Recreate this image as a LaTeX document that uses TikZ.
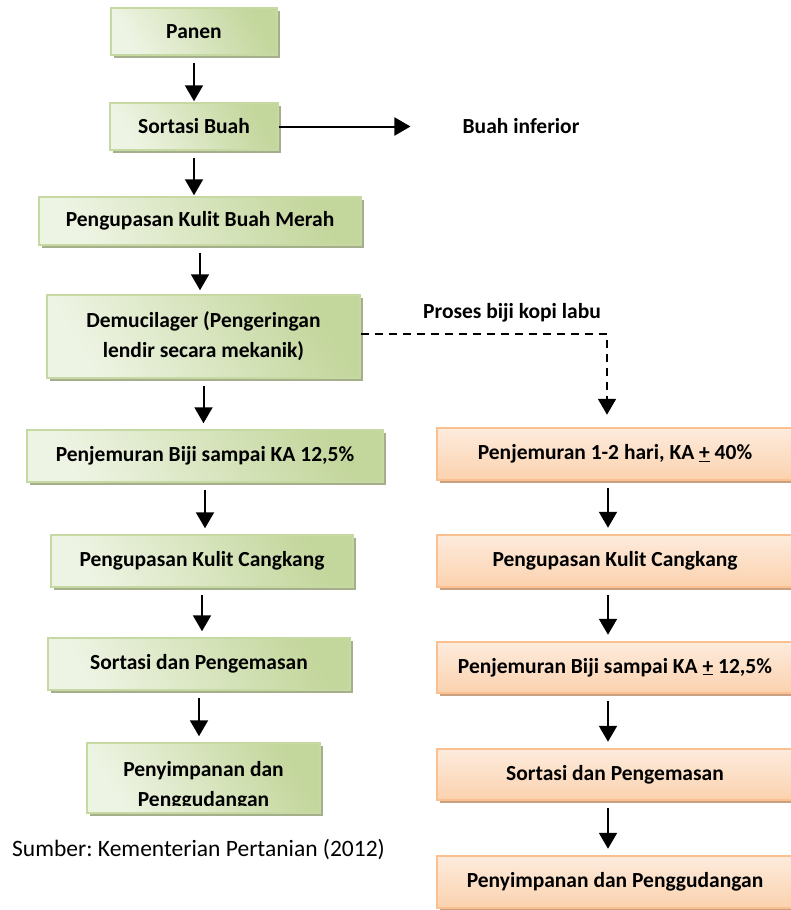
\documentclass[tikz,border=0pt]{standalone}
\usepackage{fontspec}
\setmainfont{Carlito}
\usetikzlibrary{shadows,arrows.meta,calc}
\definecolor{gL}{HTML}{EEF4E4}
\definecolor{gD}{HTML}{C3D69B}
\definecolor{gB}{HTML}{C6D9A2}
\definecolor{gS}{HTML}{A5AF8C}
\definecolor{oL}{HTML}{FDEBDD}
\definecolor{oD}{HTML}{FBD2AE}
\definecolor{oB}{HTML}{FAC090}
\definecolor{oS}{HTML}{C9A080}
\frenchspacing
\begin{document}
\begin{tikzpicture}[x=1pt,y=-1pt,
  txt/.style={font=\fontsize{21.5}{30}\selectfont\bfseries, align=center, inner sep=0pt},
  gbox/.style={txt, draw=gB, line width=1.5pt, left color=gL, right color=gD, shading angle=120,
    drop shadow={shadow xshift=3pt, shadow yshift=-3pt, fill=gS, opacity=1}},
  obox/.style={txt, draw=oB, line width=2.5pt, top color=oL, bottom color=oD,
    drop shadow={shadow xshift=3pt, shadow yshift=-3pt, fill=oS, opacity=1}},
  arr/.style={line width=2pt, -{Triangle[width=18pt,length=16pt]}},
  varr/.style={arr, shorten <=7pt, shorten >=6pt}]
\useasboundingbox (0,0) rectangle (791,910);
\fill[white] (0,0) rectangle (791,910);
% left column
\node[gbox, minimum width=166pt, minimum height=47pt] (p1) at (194,31.5) {Panen};
\node[gbox, minimum width=168pt, minimum height=47pt] (p2) at (194,126.5) {Sortasi Buah};
\node[gbox, minimum width=322pt, minimum height=48pt] (p3) at (200,221) {Pengupasan Kulit Buah Merah};
\node[gbox, minimum width=313pt, minimum height=83pt] (p4) at (203.5,336.5) {\raisebox{-3pt}{\begin{tabular}{@{}c@{}}Demucilager (Pengeringan\\lendir secara mekanik)\end{tabular}}};
\node[gbox, minimum width=356pt, minimum height=52pt] (p5) at (205,456) {Penjemuran Biji sampai KA 12,5\%};
\node[gbox, minimum width=302pt, minimum height=52pt] (p6) at (202,561) {Pengupasan Kulit Cangkang};
\node[gbox, minimum width=302pt, minimum height=52pt] (p7) at (199,664) {Sortasi dan Pengemasan};
\node[gbox, minimum width=233pt, minimum height=70pt] (p8) at (203.5,778) {};
\begin{scope}
  \clip (p8.north west) rectangle ($(p8.south east)+(0,-8)$);
  \node[txt] (p8t) at (203.5,786) {Penyimpanan dan\\Penggudangan};
\end{scope}
% right column
\node[obox, minimum width=356pt, minimum height=52pt] (r1) at (615,454) {Penjemuran 1-2 hari, KA \underline{+} 40\%};
\node[obox, minimum width=356pt, minimum height=52pt] (r2) at (615,561) {Pengupasan Kulit Cangkang};
\node[obox, minimum width=356pt, minimum height=51pt] (r3) at (615,667.5) {Penjemuran Biji sampai KA \underline{+} 12,5\%};
\node[obox, minimum width=356pt, minimum height=51pt] (r4) at (615,774.5) {Sortasi dan Pengemasan};
\node[obox, minimum width=356pt, minimum height=52pt] (r5) at (615,882) {Penyimpanan dan Penggudangan};
% labels
\node[txt] (inf) at (521,126.5) {Buah inferior};
\node[txt] (lbl) at (512,313) {Proses biji kopi labu};
\node[font=\fontsize{23.5}{28}\selectfont, anchor=west, inner sep=0pt] (src) at (12,850) {Sumber: Kementerian Pertanian (2012)};
% left arrows
\draw[arr, shorten <=7pt, shorten >=1pt] (p1.south) -- (p1.south |- p2.north);
\draw[varr, shorten >=1pt] (p2.south) -- (p2.south |- p3.north);
\draw[varr, shorten >=4pt] (p3.south) -- (p3.south |- p4.north);
\draw[varr] (p4.south) -- (p4.south |- p5.north);
\draw[varr] (p5.south) -- (p5.south |- p6.north);
\draw[varr] (p6.south) -- (p6.south |- p7.north);
\draw[varr] (p7.south) -- (p7.south |- p8.north);
% side arrow
\draw[arr, shorten >=52pt] (p2.east) -- (inf.west);
% right arrows
\coordinate (rx) at (608,0);
\draw[varr] (r1.south -| rx) -- (r2.north -| rx);
\draw[varr] (r2.south -| rx) -- (r3.north -| rx);
\draw[varr] (r3.south -| rx) -- (r4.north -| rx);
\draw[varr] (r4.south -| rx) -- (r5.north -| rx);
% dashed branch
\coordinate (dc) at (607,334);
\draw[arr, dash pattern=on 8pt off 6pt, shorten >=12pt] (p4.east |- dc) -- (dc) -- (dc |- r1.north);
\end{tikzpicture}
\end{document}
